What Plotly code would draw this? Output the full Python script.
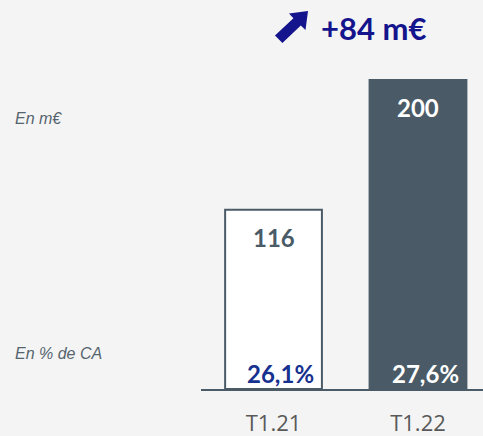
import plotly.graph_objects as go

categories = ["T1.21", "T1.22"]
values = [116, 200]
pct_labels = ["26,1%", "27,6%"]
value_labels = ["116", "200"]
delta_label = "+84 m€"

SLATE = "#4a5b67"
NAVY = "#14148c"
BG = "#f4f4f4"

L, T, W, H = 201, 0, 282, 389  # plot area in pixels


def px(x, y):
    return (x - L) / W, 1 - (y - T) / H


fig = go.Figure()
fig.add_trace(go.Bar(
    x=[0, 1], y=values,
    width=0.67,
    marker=dict(color=["#ffffff", SLATE], line=dict(color=SLATE, width=2)),
    hoverinfo="skip",
))

val_colors = [SLATE, "#ffffff"]
pct_colors = ["#17318f", "#ffffff"]
for i in range(len(categories)):
    fig.add_annotation(x=i, y=values[i], text="<b>%s</b>" % value_labels[i],
                       showarrow=False, yanchor="top", yshift=-11,
                       font=dict(family="Lato", size=24, color=val_colors[i]))
    fig.add_annotation(x=i + 0.05, y=0, text="<b>%s</b>" % pct_labels[i],
                       showarrow=False, yanchor="bottom", yshift=-1,
                       font=dict(family="Lato", size=24, color=pct_colors[i]))

# delta header
hx, hy = px(373, 28)
fig.add_annotation(xref="paper", yref="paper", x=hx, y=hy,
                   text="<b>%s</b>" % delta_label, showarrow=False,
                   xanchor="center", yanchor="middle",
                   font=dict(family="Lato", size=31, color=NAVY))

# arrow icon as a polygon
arrow_px = [(308, 11), (305.5, 30.0), (300.8, 25.6), (282.4, 43.0),
            (275.0, 35.6), (293.4, 18.2), (289.0, 13.5)]
pts = [px(a, b) for a, b in arrow_px]
path = "M " + " L ".join("%f,%f" % p for p in pts) + " Z"
fig.add_shape(type="path", xref="paper", yref="paper", path=path,
              fillcolor=NAVY, line=dict(width=0), layer="above")

# left side labels
for label, yy in [("En m€", 118), ("En % de CA", 353)]:
    lx, ly = px(13, yy)
    fig.add_annotation(xref="paper", yref="paper", x=lx, y=ly,
                       text="<i>%s</i>" % label, showarrow=False,
                       xanchor="left", yanchor="middle",
                       font=dict(family="Liberation Sans", size=16, color="#56646e"))

fig.update_layout(
    width=483, height=436,
    margin=dict(l=201, r=0, t=0, b=47, autoexpand=False),
    paper_bgcolor=BG, plot_bgcolor=BG,
    showlegend=False,
    xaxis=dict(range=[-0.502, 1.45], tickvals=[0, 1], ticktext=categories,
               showgrid=False, zeroline=False, showline=True, linecolor=SLATE,
               linewidth=2, ticks="", ticklabelstandoff=14,
               tickfont=dict(family="Open Sans", size=22, color="#595959")),
    yaxis=dict(range=[0, 251.8], visible=False, showgrid=False, zeroline=False),
)
fig.write_html("out.html", config={"displayModeBar": False},
               post_script="document.body.style.margin='0';document.body.style.overflow='hidden';")
